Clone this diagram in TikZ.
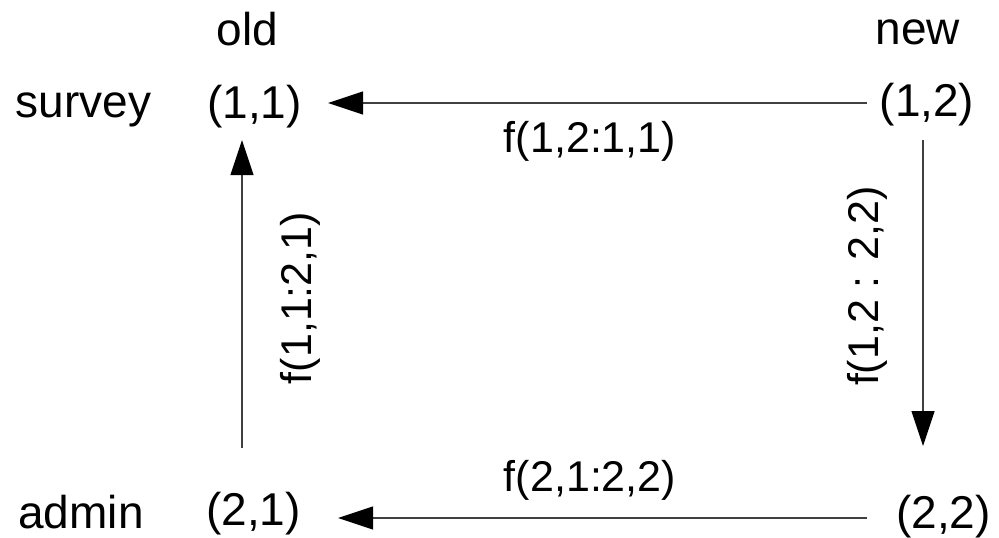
\documentclass[tikz,border=0pt]{standalone}
\usepackage{fontspec}
\setmainfont{Liberation Sans}
\usetikzlibrary{arrows.meta}
\begin{document}
\begin{tikzpicture}[x=1pt,y=-1pt,
  lbl/.style={inner sep=0pt,anchor=base,font=\fontsize{46}{50}\selectfont},
  flbl/.style={inner sep=0pt,font=\fontsize{43}{47}\selectfont},
  arr/.style={draw=black!75,line width=1.2pt,-{Triangle[length=35pt,width=23pt,fill=black,color=black]}}]
\useasboundingbox (0,0) rectangle (999,538);
% column / row headers
\node[lbl] (old) at (247.5,45) {old};
\node[lbl] (new) at (918,44) {new};
\node[lbl] (survey) at (83.5,117) {survey};
\node[lbl] (admin) at (81,528) {admin};
% states
\node[lbl] (n11) at (254.5,118) {(1,1)};
\node[lbl] (n12) at (927,116) {(1,2)};
\node[lbl] (n21) at (253.5,525) {(2,1)};
\node[lbl] (n22) at (943.5,528) {(2,2)};
% connector end points
\coordinate (t12) at (867,103);
\coordinate (t11) at (328,103);
\coordinate (l21) at (242,448);
\coordinate (l11) at (242,140);
\coordinate (r12) at (923,140);
\coordinate (r22) at (923,446);
\coordinate (b22) at (867,518);
\coordinate (b21) at (338,518);
% connectors
\draw[arr] (t12) -- (t11);
\draw[arr] (l21) -- (l11);
\draw[arr] (r12) -- (r22);
\draw[arr] (b22) -- (b21);
% labels
\node[flbl,anchor=base] (ftop) at (590,152) {f(1,2:1,1)};
\node[flbl,anchor=base] (fbot) at (590,491) {f(2,1:2,2)};
\node[flbl,rotate=90] (fleft) at (300,298) {f(1,1:2,1)};
\node[flbl,rotate=90] (fright) at (867,286) {f(1,2 : 2,2)};
\end{tikzpicture}
\end{document}
